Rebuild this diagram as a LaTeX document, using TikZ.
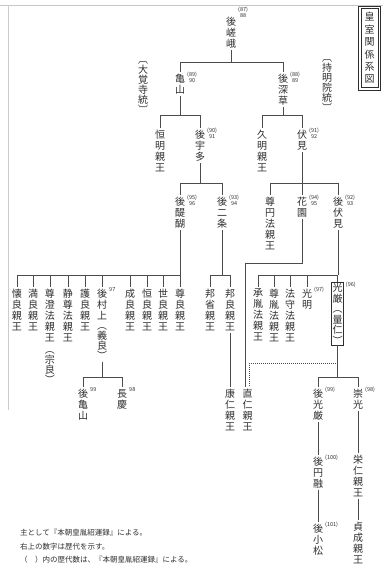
\documentclass[tikz,border=0pt]{standalone}
\usepackage{fontspec}
\setmainfont{Noto Sans CJK JP}
\definecolor{ink}{gray}{0.18}
\definecolor{lnc}{gray}{0.30}
\begin{document}
\begin{tikzpicture}[x=1pt,y=-1pt,
  vt/.style={anchor=north, inner sep=0pt, outer sep=2pt, align=center, font=\fontsize{10}{11}\selectfont, text=ink},
  vb/.style={vt, font=\fontsize{10}{10}\selectfont},
  sup/.style={anchor=north west, inner sep=0pt, align=center, font=\fontsize{5.5}{6}\selectfont, text=ink},
  ln/.style={draw=lnc, line width=0.5pt},
  dl/.style={draw=lnc, line width=0.5pt, dash pattern=on 1pt off 1pt},
  foot/.style={anchor=west, inner sep=0pt, font=\fontsize{7.5}{8}\selectfont, text=ink}
]
\useasboundingbox (0,0) rectangle (383,574);
\fill[white] (0,0) rectangle (383,574);
% scan frame
\draw[gray!45, line width=0.6pt] (0,5) -- (383,5);
\draw[gray!40, line width=0.6pt] (8,5) -- (8,410);

% title
\node[inner sep=0pt, align=center, font=\fontsize{10}{12.4}\selectfont, text=ink] (title) at (369.5,48) {皇\\室\\関\\係\\系\\図};
\draw[ink, line width=0.45pt] ([shift={(-3.5pt,3.5pt)}]title.north west) rectangle ([shift={(3.5pt,-3.5pt)}]title.south east);
\draw[ink, line width=0.45pt] ([shift={(-6pt,6pt)}]title.north west) rectangle ([shift={(6pt,-6pt)}]title.south east);

% lineage labels
\node[vb] (daikaku) at (143,60) {︹\\大\\覚\\寺\\統\\︺};
\node[vb] (jimyo) at (327,58) {︹\\持\\明\\院\\統\\︺};

% row 0
\node[vt] (gosaga) at (231,15) {後\\嵯\\峨};
\node[sup,yshift=8pt] (sgosaga) at (gosaga.north east) {(87)\\88};

% row 1
\node[vt] (kameyama) at (180,72) {亀\\山};
\node[sup] (skameyama) at (kameyama.north east) {(89)\\90};
\node[vt] (gofukakusa) at (283,72) {後\\深\\草};
\node[sup] (sgofukakusa) at (gofukakusa.north east) {(88)\\89};

% row 2
\node[vt] (tsuneaki) at (160,128) {恒\\明\\親\\王};
\node[vt] (gouda) at (200,128) {後\\宇\\多};
\node[sup] (sgouda) at (gouda.north east) {(90)\\91};
\node[vt] (hisaaki) at (262,128) {久\\明\\親\\王};
\node[vt] (fushimi) at (302,128) {伏\\見};
\node[sup] (sfushimi) at (fushimi.north east) {(91)\\92};

% row 3
\node[vt] (godaigo) at (180,195) {後\\醍\\醐};
\node[sup] (sgodaigo) at (godaigo.north east) {(95)\\96};
\node[vt] (gonijo) at (222,195) {後\\二\\条};
\node[sup] (sgonijo) at (gonijo.north east) {(93)\\94};
\node[vt] (sonen) at (270,195) {尊\\円\\法\\親\\王};
\node[vt] (hanazono) at (302,195) {花\\園};
\node[sup] (shanazono) at (hanazono.north east) {(94)\\95};
\node[vt] (gofushimi) at (338,195) {後\\伏\\見};
\node[sup] (sgofushimi) at (gofushimi.north east) {(92)\\93};

% row 4 : Go-Daigo's children
\node[vt] (kaneyoshi) at (17,287) {懐\\良\\親\\王};
\node[vt] (mitsunaga) at (33,287) {満\\良\\親\\王};
\node[vt] (sonchou) at (50,287) {尊\\澄\\法\\親\\王};
\node[vb] (munenaga) at (50,350) {︵\\宗\\良\\︶};
\node[vt] (seison) at (68,287) {静\\尊\\法\\親\\王};
\node[vt] (moriyoshi) at (85,287) {護\\良\\親\\王};
\node[vt] (gomurakami) at (102,287) {後\\村\\上};
\node[sup] (sgomurakami) at (gomurakami.north east) {97};
\node[vb] (noriyoshi) at (102,326) {︵\\義\\良\\︶};
\node[vt] (nariyoshi) at (130,287) {成\\良\\親\\王};
\node[vt] (tsuneyoshi) at (147,287) {恒\\良\\親\\王};
\node[vt] (yoshiyoshi) at (163,287) {世\\良\\親\\王};
\node[vt] (takayoshi) at (180,287) {尊\\良\\親\\王};

% row 4 : Go-Nijo's children
\node[vt] (kunimi) at (210,287) {邦\\省\\親\\王};
\node[vt] (kuniyoshi) at (230,287) {邦\\良\\親\\王};

% row 4 : Go-Fushimi's children
\node[vt] (shouin) at (258,287) {承\\胤\\法\\親\\王};
\node[vt] (sonin) at (274,287) {尊\\胤\\法\\親\\王};
\node[vt] (houshu) at (290,287) {法\\守\\法\\親\\王};
\node[vt] (koumyou) at (307,287) {光\\明};
\node[sup] (skoumyou) at (koumyou.north east) {(97)};
\node[vt, font=\fontsize{10}{10.5}\selectfont, draw=ink, line width=0.45pt, inner sep=1.2pt, outer sep=0pt] (kogon) at (337.5,282) {光\\厳\\︵\\量\\仁\\︶};
\node[sup,xshift=2pt] (skogon) at (kogon.north east) {(96)};

% row 5
\node[vt] (gokameyama) at (83,387) {後\\亀\\山};
\node[sup] (sgokameyama) at (gokameyama.north east) {99};
\node[vt] (choukei) at (122,387) {長\\慶};
\node[sup] (schoukei) at (choukei.north east) {98};
\node[vt] (yasuhito) at (230,387) {康\\仁\\親\\王};
\node[vt] (naohito) at (247.5,387) {直\\仁\\親\\王};
\node[vt] (gokogon) at (318,387) {後\\光\\厳};
\node[sup] (sgokogon) at (gokogon.north east) {(99)};
\node[vt] (sukou) at (358,387) {崇\\光};
\node[sup] (ssukou) at (sukou.north east) {(98)};

% row 6,7
\node[vt] (goenyu) at (318,455) {後\\円\\融};
\node[sup] (sgoenyu) at (goenyu.north east) {(100)};
\node[vt] (yoshihito) at (358,453) {栄\\仁\\親\\王};
\node[vt] (gokomatsu) at (318,522) {後\\小\\松};
\node[sup] (sgokomatsu) at (gokomatsu.north east) {(101)};
\node[vt] (sadafusa) at (358,520) {貞\\成\\親\\王};

% ---------- connectors ----------
\draw[ln] (gosaga.south) -- (gosaga.south |- 0,62);
\draw[ln] (kameyama.north) -- (kameyama.north |- 0,62) -- (gofukakusa.north |- 0,62) -- (gofukakusa.north);
\draw[ln] (kameyama.south) -- (kameyama.south |- 0,115);
\draw[ln] (tsuneaki.north) -- (tsuneaki.north |- 0,115) -- (gouda.north |- 0,115) -- (gouda.north);
\draw[ln] (gofukakusa.south) -- (gofukakusa.south |- 0,115);
\draw[ln] (hisaaki.north) -- (hisaaki.north |- 0,115) -- (fushimi.north |- 0,115) -- (fushimi.north);
\draw[ln] (gouda.south) -- (gouda.south |- 0,183);
\draw[ln] (godaigo.north) -- (godaigo.north |- 0,183) -- (gonijo.north |- 0,183) -- (gonijo.north);
\draw[ln] (fushimi.south) -- (fushimi.south |- 0,183);
\draw[ln] (sonen.north) -- (sonen.north |- 0,183) -- (gofushimi.north |- 0,183) -- (gofushimi.north);
\draw[ln] (hanazono.north) -- (hanazono.north |- 0,183);
\draw[ln] (godaigo.south) -- (godaigo.south |- 0,275);
\draw[ln] (kaneyoshi.north) -- (kaneyoshi.north |- 0,275) -- (takayoshi.north |- 0,275) -- (takayoshi.north);
\foreach \c in {mitsunaga,sonchou,seison,moriyoshi,gomurakami,nariyoshi,tsuneyoshi,yoshiyoshi}
  \draw[ln] (\c.north) -- (\c.north |- 0,275);
\draw[ln] (gonijo.south) -- (gonijo.south |- 0,275);
\draw[ln] (kunimi.north) -- (kunimi.north |- 0,275) -- (kuniyoshi.north |- 0,275) -- (kuniyoshi.north);
\draw[ln] (kuniyoshi.south) -- (yasuhito.north);
\draw[ln] (gofushimi.south) -- (gofushimi.south |- 0,275);
\draw[ln] (shouin.north) -- (shouin.north |- 0,275) -- (kogon.north |- 0,275) -- (kogon.north);
\foreach \c in {sonin,houshu,koumyou}
  \draw[ln] (\c.north) -- (\c.north |- 0,275);
\draw[ln] (hanazono.south) -- (hanazono.south |- 0,263) -| ([xshift=-2pt]naohito.north);
\coordinate (kj) at (kogon.south |- 0,363);
\draw[dl] (kj) -| ([xshift=2pt]naohito.north);
\draw[ln] (noriyoshi.south) -- (noriyoshi.south |- 0,377);
\draw[ln] (gokameyama.north) -- (gokameyama.north |- 0,377) -- (choukei.north |- 0,377) -- (choukei.north);
\draw[ln] (kogon.south) -- (kogon.south |- 0,377);
\draw[ln] (gokogon.north) -- (gokogon.north |- 0,377) -- (sukou.north |- 0,377) -- (sukou.north);
\draw[ln] (gokogon.south) -- (goenyu.north);
\draw[ln] (goenyu.south) -- (gokomatsu.north);
\draw[ln] (sukou.south) -- (yoshihito.north);
\draw[ln] (yoshihito.south) -- (sadafusa.north);

% footer
\node[foot] (f1) at (20,533) {主として『本朝皇胤紹運録』による。};
\node[foot] (f2) at (20,547) {右上の数字は歴代を示す。};
\node[foot] (f3) at (20,560) {（　）内の歴代数は、『本朝皇胤紹運録』による。};
\end{tikzpicture}
\end{document}
